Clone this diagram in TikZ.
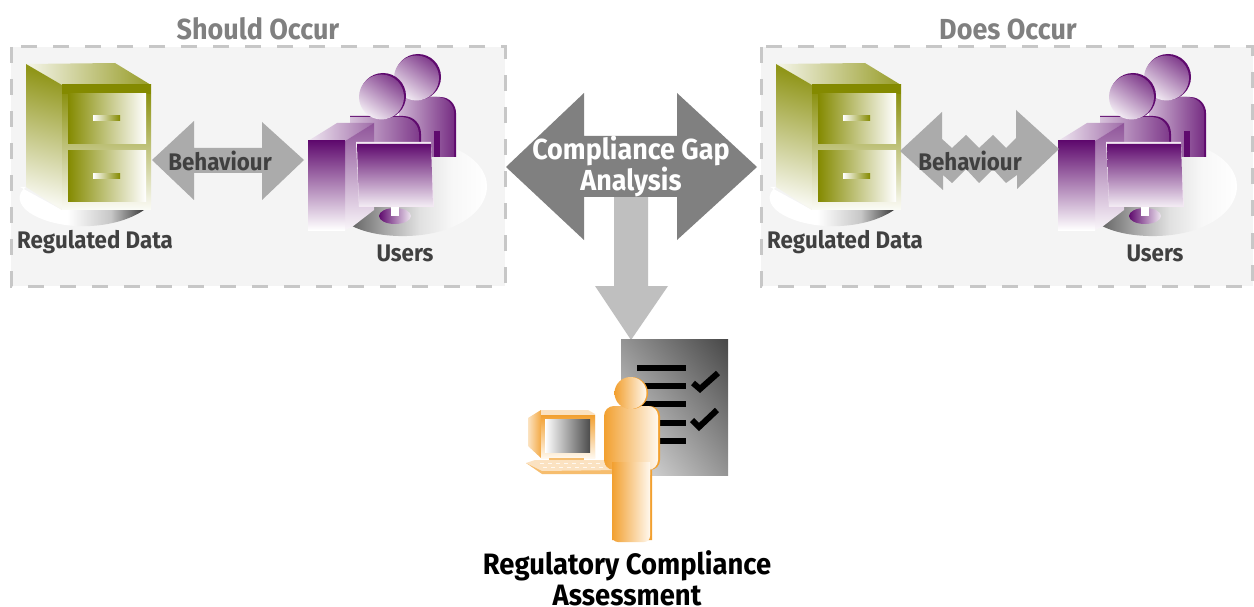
\documentclass[tikz,border=0pt]{standalone}
\usepackage{fontspec}
\usetikzlibrary{shadings}
\setmainfont[FakeStretch=0.93]{Fira Sans}
\definecolor{olivem}{HTML}{848A00}
\definecolor{purplem}{HTML}{5F0A6E}
\definecolor{purplel}{HTML}{F3E8F3}
\definecolor{orangem}{HTML}{F2A030}
\definecolor{orangel}{HTML}{FFF8EE}
\pgfdeclarehorizontalshading{cabshadow}{100bp}{color(0bp)=(white);color(25bp)=(white);color(45bp)=(white);color(62bp)=(black!22);color(70bp)=(black!55);color(75bp)=(black!78);color(100bp)=(black!78)}
\pgfdeclarehorizontalshading{discshadow}{100bp}{color(0bp)=(black!60);color(25bp)=(black!60);color(37bp)=(black!35);color(50bp)=(black!12);color(62bp)=(black!3);color(75bp)=(white);color(100bp)=(white)}
\tikzset{
  panelbox/.style={fill=black!4.5,draw=black!22,line width=3pt,dash pattern=on 16pt off 16pt},
  lbl/.style={font=\bfseries\fontsize{24}{24}\selectfont,text=black!75,inner sep=0pt},
  headlbl/.style={font=\bfseries\fontsize{29}{29}\selectfont,text=black!50,inner sep=0pt},
  biglbl/.style={font=\bfseries\fontsize{29}{31}\selectfont,inner sep=0pt,align=center},
  botlbl/.style={font=\bfseries\fontsize{29.5}{31}\selectfont,inner sep=0pt,align=center},
  drawerbox/.style={left color=olivem,right color=white},
  handlebox/.style={left color=white,right color=olivem},
  midarrow/.style={fill=black!33},
  headshade/.style={top color=purplem!78,bottom color=purplem!8,shading angle=-35},
}
\newcommand{\mycabinet}{%
  \path[shading=cabshadow]
    (20,187) -- (26,187) .. controls (16,194) and (18,205) .. (30,213)
    .. controls (60,232) and (115,230) .. (144,210) -- (62,210) -- cycle;
  \path[left color=olivem!8,right color=olivem!85] (26,64) -- (115,63) -- (151,85) -- (62,85) -- cycle;
  \path[top color=olivem!90,bottom color=olivem!6,shading angle=-15] (26,64) -- (62,85) -- (62,210) -- (26,187) -- cycle;
  \path[top color=olivem,bottom color=olivem!3] (62,85) rectangle (151,210);
  \path[fill=olivem] (62,85) rectangle (151,94);
  \path[drawerbox] (68,94) rectangle (146,144);
  \path[drawerbox] (68,151) rectangle (146,202);
  \path[handlebox] (93,116) rectangle (120,121);
  \path[handlebox] (93,174) rectangle (120,179);
}
\newcommand{\myusers}{%
  \path[shading=discshadow]
    (352,226) .. controls (375,238) and (420,240) .. (450,228)
    .. controls (475,218) and (487,202) .. (487,186)
    .. controls (487,172) and (475,156) .. (453,148) -- (380,148) -- cycle;
  % back person
  \path[fill=purplem] (399,97) -- (440,97) .. controls (450,97) and (456,105) .. (456,113) -- (456,157) -- (400,157) -- cycle;
  \path[left color=purplem!30,right color=purplem!85] (399,97) -- (437,97) .. controls (447,97) and (454,105) .. (454,113) -- (454,157) -- (400,157) -- cycle;
  \path[fill=purplem] (434,131) rectangle (440,157);
  \path[fill=purplem] (418,77) circle[radius=23];
  \path[headshade] (416.5,78) circle[radius=22.5];
  % front person
  \path[fill=purplem] (350,116) -- (403,116) .. controls (414,116) and (421,124) .. (421,134) -- (421,146) -- (350,146) -- cycle;
  \path[left color=purplem!25,right color=purplem!80] (350,117) -- (401,117) .. controls (412,117) and (419,125) .. (419,135) -- (419,146) -- (350,146) -- cycle;
  \path[fill=purplem] (383,96) circle[radius=23];
  \path[headshade] (381.5,97) circle[radius=22.5];
  % tower
  \path[left color=purplem!10,right color=purplem!60] (308,141) -- (337,123) -- (374,123) -- (345,141) -- cycle;
  \path[top color=purplem!70,bottom color=purplem!4] (345,141) -- (374,123) -- (374,210) -- (352,227) -- (345,230) -- cycle;
  \path[top color=purplem,bottom color=white] (308,141) rectangle (345,230);
  % monitor
  \path[left color=purplem,right color=purplem!10] (395,216) ellipse[x radius=16,y radius=8];
  \path[fill=white] (391,207) rectangle (399,216);
  \path[fill=purplel] (356,142) -- (431,142) -- (434,207) -- (359,207) -- cycle;
  \path[top color=purplem,bottom color=purplem!8] (357,144) -- (431,144) -- (433,206) -- (359,206) -- cycle;
}
\begin{document}
\begin{tikzpicture}[x=1pt,y=-1pt]
\useasboundingbox (0,0) rectangle (1254,607);
\path[fill=white] (0,0) rectangle (1254,607);
% panels
\path[panelbox] (11,47) rectangle (505,286);
\path[panelbox] (761,47) rectangle (1252.5,286);
\mycabinet
\myusers
\begin{scope}[xshift=750pt]
\mycabinet
\myusers
\end{scope}
% left behaviour arrow
\path[midarrow] (152,160) -- (194,121) -- (194,148) -- (262,148) -- (262,122) -- (304,160) -- (262,200) -- (262,173) -- (194,173) -- (194,200) -- cycle;
% right behaviour arrow
\path[midarrow] (900,151) -- (942,112) -- (942,139) -- (952,148) -- (966,135) -- (979,148) -- (993,135) -- (1006,148) -- (1016,138) -- (1016,110) -- (1059,149) -- (1017,189) -- (1017,175) -- (1006,183) -- (993,169) -- (979,183) -- (966,169) -- (952,183) -- (943,175) -- (943,190) -- cycle;
% down arrow
\path[fill=black!25] (614,190) -- (648,190) -- (648,286) -- (668,286) -- (631,340) -- (595,286) -- (614,286) -- cycle;
% centre arrow
\path[fill=black!50] (506,167) -- (584,93) -- (584,136) -- (677,136) -- (677,93) -- (757,167) -- (677,240) -- (677,197) -- (584,197) -- (584,240) -- cycle;
% document
\path[lower left=black!10,upper right=black!72,lower right=black!42,upper left=black!42] (621,339) rectangle (728,475);
\foreach \yy in {368,386,404,423,441}{\path[fill=black] (637,\yy-3) rectangle (686,\yy+3);}
\draw[line width=6pt] (693,383) -- (700,389) -- (718,373);
\draw[line width=6pt] (692,420) -- (699,427) -- (717,410);
% computer
\path[left color=orangem!30,right color=orangem!90] (528,418) -- (541,410) -- (541,458) -- (528,446) -- cycle;
\path[fill=orangem!30] (541,410) -- (588,410) -- (595,414) -- (595,458) -- (541,458) -- cycle;
\path[top color=orangem,bottom color=orangel] (541,415) -- (595,415) -- (595,458) -- (541,458) -- cycle;
\path[left color=white,right color=black!70] (545,419) rectangle (590,452);
\path[fill=orangem!70] (549,458) rectangle (584,461);
\path[fill=orangem!70] (526,463) -- (542,474) -- (620,474) -- (620,470) -- cycle;
\path[fill=orangem!30] (526,463) -- (535,460) -- (610,460) -- (620,470) -- (542,471) -- cycle;
\foreach \xx in {540,548,...,604}{\path[fill=orangel] (\xx,463) rectangle +(4,1.3);\path[fill=orangel] (\xx+3,467) rectangle +(4,1.3);}
% assessor
\path[fill=orangem] (613,470) -- (652,470) -- (652,540) -- (612,540) -- cycle;
\path[left color=orangem,right color=orangel,rounded corners=6pt] (612,460) -- (650,460) -- (650,542) -- (612,542) -- cycle;
\path[fill=orangem,rounded corners=10pt] (606,406) rectangle (660,470);
\path[left color=orangem,right color=orangel,rounded corners=10pt] (604,406) rectangle (658,470);
\path[left color=orangem,right color=orangel] (612,462) rectangle (650,474);
\path[fill=orangem] (632,393) circle[radius=16];
\path[left color=orangem,right color=orangel] (630.5,393) circle[radius=16];
% texts
\node[headlbl] (t1) at (258,29) {Should Occur};
\node[headlbl] (t2) at (1008,29) {Does Occur};
\node[lbl] (rd1) at (95,242) {Regulated Data};
\node[lbl] (u1) at (405,253.5) {Users};
\node[lbl] (b1) at (220,161) {Behaviour};
\node[lbl] (rd2) at (845,242) {Regulated Data};
\node[lbl] (u2) at (1155,253.5) {Users};
\node[lbl] (b2) at (970,161) {Behaviour};
\node[biglbl,text=white] (gap) at (631,166) {Compliance Gap\\Analysis};
\node[botlbl,text=black] (rca) at (627,578.5) {Regulatory Compliance\\Assessment};
\end{tikzpicture}
\end{document}
